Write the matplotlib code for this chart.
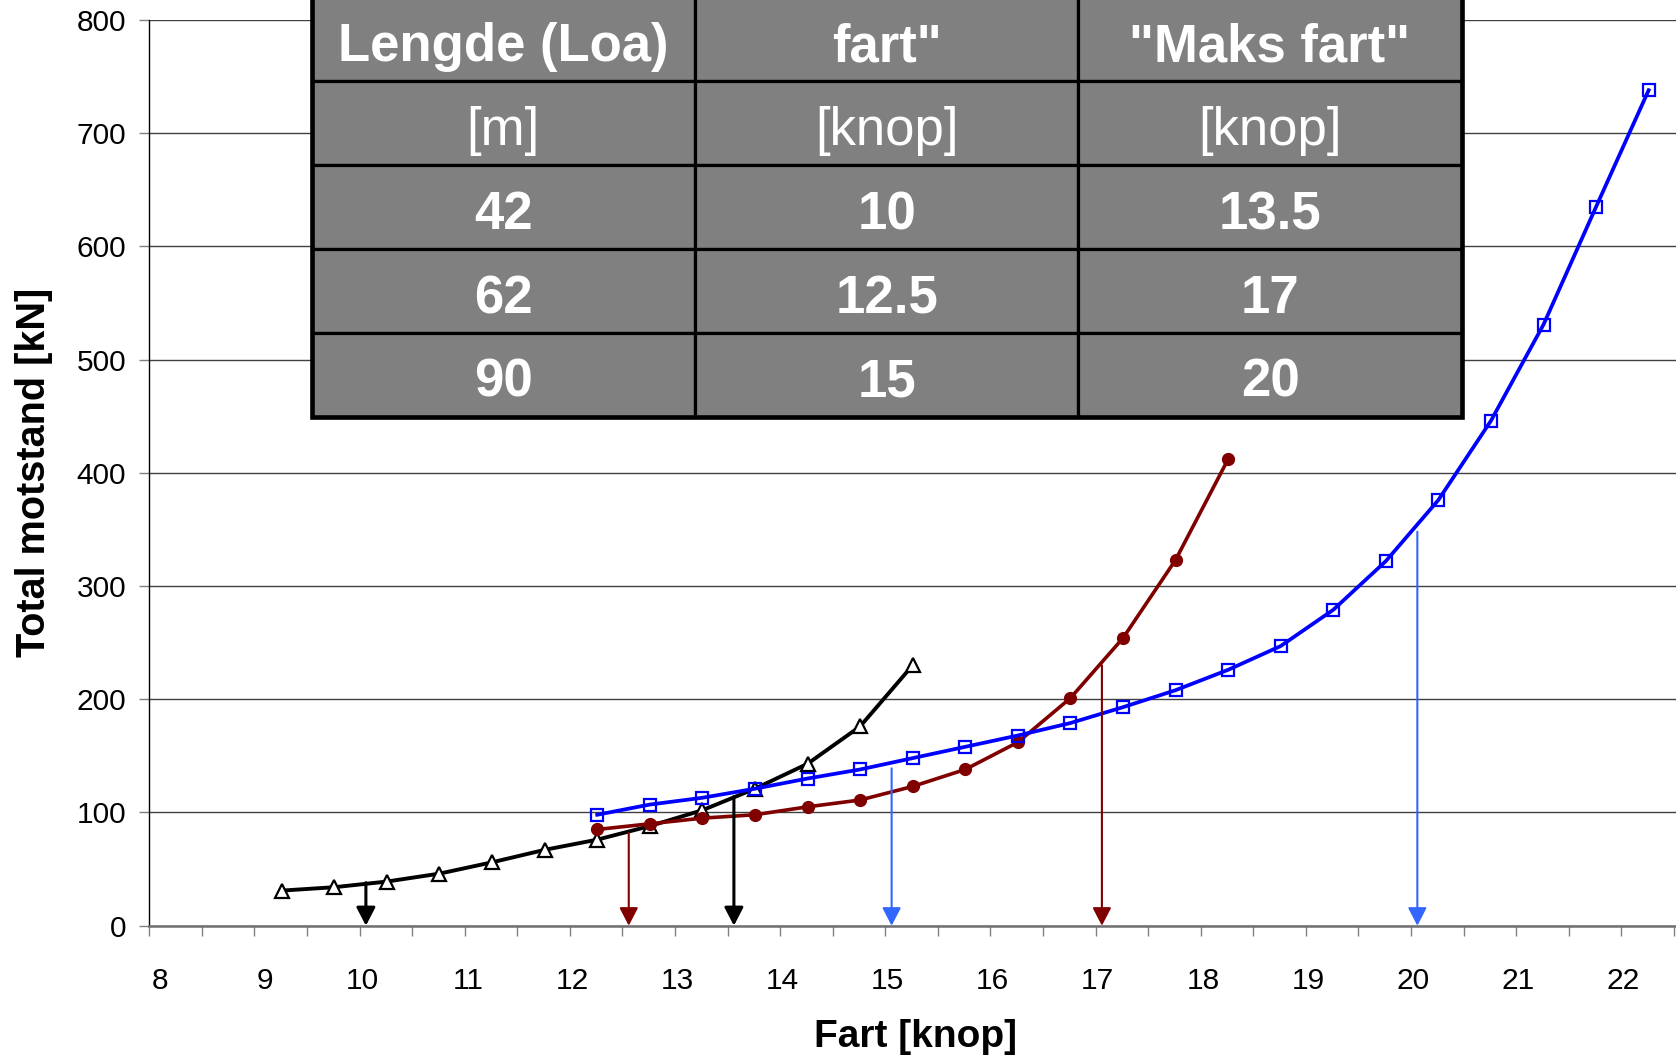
import numpy as np
import matplotlib
matplotlib.use('Agg')
import matplotlib.pyplot as plt
import matplotlib.transforms as mtransforms

plt.rcParams['font.family'] = ['Liberation Sans', 'DejaVu Sans']

# fart [knop] og total motstand [kN] for de tre skipene
fart_42 = [9.2, 9.7, 10.2, 10.7, 11.2, 11.7, 12.2, 12.7, 13.2, 13.7, 14.2, 14.7, 15.2]
motstand_42 = [31, 34, 39, 46, 56, 67, 76, 88, 102, 121, 143, 176, 230]

fart_62 = [12.2, 12.7, 13.2, 13.7, 14.2, 14.7, 15.2, 15.7, 16.2, 16.7, 17.2, 17.7, 18.2]
motstand_62 = [85, 90, 95, 98, 105, 111, 123, 138, 162, 201, 254, 323, 412]

fart_90 = [12.2, 12.7, 13.2, 13.7, 14.2, 14.7, 15.2, 15.7, 16.2, 16.7, 17.2,
           17.7, 18.2, 18.7, 19.2, 19.7, 20.2, 20.7, 21.2, 21.7, 22.2]
motstand_90 = [98, 107, 113, 121, 130, 138, 148, 158, 168, 179, 193,
               208, 226, 247, 279, 322, 376, 446, 531, 635, 738]

# piler ned til x-aksen (servicefart og maks fart)
pil_fart = [10, 13.5, 12.5, 17, 15, 20]
pil_topp = [38, 114, 82, 230, 139, 348]
pil_farge = ['black', 'black', '#800000', '#800000', '#3366ff', '#3366ff']
pil_bredde = [2.2, 2.2, 1.5, 1.5, 1.5, 1.5]

# tabell
tabell_hode = ['Lengde (Loa)', 'fart"', '"Maks fart"']
tabell_enhet = ['[m]', '[knop]', '[knop]']
lengde = [42, 62, 90]
servicefart = [10, 12.5, 15]
maksfart = [13.5, 17, 20]

x_ticks = [8, 9, 10, 11, 12, 13, 14, 15, 16, 17, 18, 19, 20, 21, 22]
y_ticks = [0, 100, 200, 300, 400, 500, 600, 700, 800]

W, H = 1676, 1058
fig = plt.figure(figsize=(W / 100, H / 100), dpi=100)
ax_l, ax_r, ax_t, ax_b = 149.3, 1676, 20, 925.7
ax = fig.add_axes([ax_l / W, 1 - ax_b / H, (ax_r - ax_l) / W, (ax_b - ax_t) / H])

xmin, xmax = 7.94, 22.46
ax.set_xlim(xmin, xmax)
ax.set_ylim(0, 800)

ax.plot(fart_42, motstand_42, color='black', lw=2.8, marker='^', ms=10,
        mfc='white', mec='black', mew=1.6, zorder=3)
ax.plot(fart_62, motstand_62, color='#800000', lw=2.6, marker='o', ms=8.5,
        mfc='#800000', mec='#800000', zorder=3)
ax.plot(fart_90, motstand_90, color='#0000ff', lw=2.7, marker='s', ms=8,
        mfc='none', mec='#0000ff', mew=1.6, zorder=3)

for x, top, c, lw in zip(pil_fart, pil_topp, pil_farge, pil_bredde):
    ax.annotate('', xy=(x, 0), xytext=(x, top),
                arrowprops=dict(arrowstyle='-|>,head_length=0.5,head_width=0.26',
                                color=c, lw=lw, shrinkA=0, shrinkB=0,
                                mutation_scale=22), zorder=4)

# akser
for s in ['top', 'right']:
    ax.spines[s].set_visible(False)
ax.spines['left'].set_color('black')
ax.spines['left'].set_linewidth(1.0)
ax.spines['bottom'].set_color('#707070')
ax.spines['bottom'].set_linewidth(1.8)

ax.set_yticks(y_ticks)
ax.yaxis.grid(True, color='#404040', lw=1.0)
ax.set_axisbelow(True)
ax.tick_params(axis='y', length=7.2, width=1, color='#808080', pad=9.5,
               labelsize=21.5)

ax.set_xticks(x_ticks)
ax.set_xticks(np.arange(xmin, xmax, 0.5), minor=True)
ax.tick_params(axis='x', which='major', length=0, pad=30, labelsize=21.5)
ax.tick_params(axis='x', which='minor', length=7, width=1, color='#808080')
offset = mtransforms.ScaledTranslation(9 / 72, 0, fig.dpi_scale_trans)
for lab in ax.get_xticklabels():
    lab.set_horizontalalignment('right')
    lab.set_transform(lab.get_transform() + offset)

ax.set_xlabel('Fart [knop]', fontsize=28, fontweight='bold', va='center')
ax.xaxis.set_label_coords((915 - ax_l) / (ax_r - ax_l), (ax_b - 1037) / (ax_b - ax_t))
ax.set_ylabel('Total motstand [kN]', fontsize=28.5, fontweight='bold', va='center')
ax.yaxis.set_label_coords((34 - ax_l) / (ax_r - ax_l), (ax_b - 472) / (ax_b - ax_t))

# tabell oppe i diagrammet (overkanten ligger like over bildet)
rows = [tabell_hode, tabell_enhet]
for a, b, c in zip(lengde, servicefart, maksfart):
    rows.append([f'{a:g}', f'{b:g}', f'{c:g}'])

t_l, t_r, t_t, t_b = 311.7, 1461.7, -2.5, 416.9
bx = (t_l - ax_l) / (ax_r - ax_l)
bw = (t_r - t_l) / (ax_r - ax_l)
by = (ax_b - t_b) / (ax_b - ax_t)
bh = (t_b - t_t) / (ax_b - ax_t)
tbl = ax.table(cellText=rows, cellLoc='center', bbox=[bx, by, bw, bh])
tbl.auto_set_font_size(False)
tbl.set_fontsize(38)
tbl.set_zorder(6)
for (r, c), cell in tbl.get_celld().items():
    cell.set_facecolor('#808080')
    cell.set_edgecolor('black')
    cell.set_linewidth(2.3)
    txt = cell.get_text()
    txt.set_color('white')
    txt.set_fontweight('normal' if r == 1 else 'bold')
    txt.set_transform(mtransforms.Affine2D().translate(0, -8))

# tykkere ytterkant (venstre, bunn, hoyre)
ax.plot([bx, bx, bx + bw, bx + bw], [by + bh, by, by, by + bh],
        transform=ax.transAxes, color='black', lw=3.3, clip_on=False,
        solid_joinstyle='miter', zorder=7)

fig.savefig('out.png', dpi=100)
